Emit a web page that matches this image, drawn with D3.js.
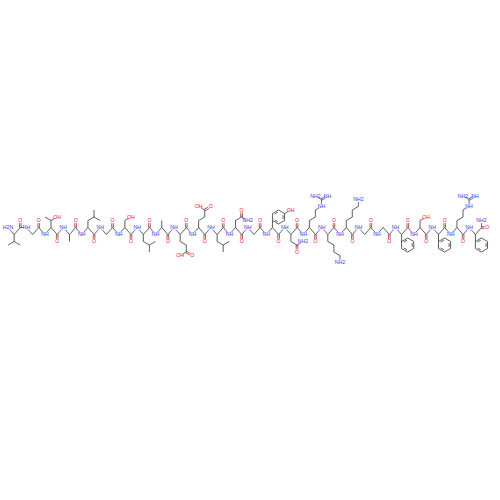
<!DOCTYPE html>
<html><head><meta charset="utf-8">
<script src="https://d3js.org/d3.v7.min.js"></script>
<style>body{margin:0;background:#fff}</style></head>
<body><svg id="c" width="500" height="500"></svg>
<script>
const residues = ["V","G","T","A","L","G","S","L","A","E","E","L","N","G","Y","N","R","K","K","G","G","F","S","F","R","F"];
const sides    = [ 1, 1,-1, 1,-1, 1,-1, 1,-1, 1,-1, 1,-1, 1,-1, 1,-1, 1,-1, 1,-1, 1,-1, 1,-1, 1];
// side-chain templates: [fromAtom, angle(deg), label, bondOrder]; atom 0 = CA
const templates = {
  G: [],
  A: [[0,0,"",1]],
  V: [[0,0,"",1],[1,60,"",1],[1,-60,"",1]],
  L: [[0,0,"",1],[1,60,"",1],[2,0,"",1],[2,120,"",1]],
  T: [[0,0,"",1],[1,60,"OH",1],[1,-60,"",1]],
  S: [[0,0,"",1],[1,60,"OH",1]],
  E: [[0,0,"",1],[1,60,"",1],[2,0,"",1],[3,60,"O",2],[3,-60,"OH",1]],
  N: [[0,0,"",1],[1,60,"",1],[2,0,"O",2],[2,120,"NH2",1]],
  K: [[0,0,"",1],[1,60,"",1],[2,0,"",1],[3,60,"",1],[4,0,"NH2",1]],
  R: [[0,0,"",1],[1,60,"",1],[2,0,"",1],[3,60,"NH",1],[4,0,"",1],[5,60,"NH",2],[5,-60,"NH2",1]],
  F: [[0,0,"",1],["ring",1,60,""]],
  Y: [[0,0,"",1],["ring",1,60,"OH"]]
};
const L = 7, amp = 3.5, baseY = 231;
const x = d3.scaleLinear().domain([0, 3*residues.length]).range([8, 8 + 3*residues.length*6.15]);
const y = d3.scaleLinear().domain([-1, 1]).range([baseY-amp, baseY+amp]);

const atoms = [], bonds = [], ringInner = [];
function add(px, py, label) { atoms.push({x:px, y:py, label:label||""}); return atoms.length-1; }
function bond(a, b, o) { bonds.push({a, b, o:o||1}); }

let prevC = null, lastD = 1;
const nRes = residues.length;
residues.forEach((r, i) => {
  const d = sides[i]; lastD = d;
  const n = add(x(3*i), y(-d), i === 0 ? "H2N" : "NH");
  const ca = add(x(3*i+1), y(d));
  const c = add(x(3*i+2), y(-d));
  const last = i === nRes - 1;
  const o = add(atoms[c].x, atoms[c].y - d*L, last ? "NH2" : "O");
  if (prevC !== null) bond(prevC, n);
  bond(n, ca); bond(ca, c); bond(c, o, last ? 1 : 2);
  prevC = c;
  const dir = a => [Math.sin(a*Math.PI/180)*L, d*Math.cos(a*Math.PI/180)*L];
  const loc = [ca];
  templates[r].forEach(t => {
    if (t[0] === "ring") {
      const p = atoms[loc[t[1]]];
      const a = t[2], v = dir(a);
      const cx = p.x + v[0], cy = p.y + v[1];
      const vs = [];
      for (let k = 0; k < 6; k++) {
        const w = dir(a + 180 + 60*k);
        vs.push(k === 0 ? loc[t[1]] : add(cx + w[0], cy + w[1]));
      }
      for (let k = 0; k < 6; k++) {
        bond(vs[k], vs[(k+1)%6]);
        if (k % 2 === 1) ringInner.push({a:vs[k], b:vs[(k+1)%6], cx, cy});
      }
      if (t[3]) { const q = atoms[vs[3]]; const oh = add(q.x + v[0], q.y + v[1], t[3]); bond(vs[3], oh); }
    } else {
      const p = atoms[loc[t[0]]], v = dir(t[1]);
      const id = add(p.x + v[0], p.y + v[1], t[2]);
      bond(loc[t[0]], id, t[3]);
      loc.push(id);
    }
  });
});
const ct = add(x(3*nRes) - 0.5, atoms[prevC].y, "O");
bond(prevC, ct, 2);

const svg = d3.select("#c");
const col = l => l.startsWith("O") ? "#e8161b" : (l.includes("N") ? "#3a3adf" : "#333");
const g = svg.append("g");
function shrink(p, q) {
  const dx = q.x - p.x, dy = q.y - p.y, len = Math.hypot(dx, dy);
  const s0 = p.label ? 2.6/len : 0, s1 = q.label ? 2.6/len : 0;
  return [p.x + dx*s0, p.y + dy*s0, q.x - dx*s1, q.y - dy*s1];
}
bonds.forEach(b => {
  const p = atoms[b.a], q = atoms[b.b];
  const offs = b.o === 2 ? [-0.8, 0.8] : [0];
  offs.forEach(off => {
    const [x1,y1,x2,y2] = shrink(p, q);
    const len = Math.hypot(x2-x1, y2-y1), nx = -(y2-y1)/len*off, ny = (x2-x1)/len*off;
    const mx = (x1+x2)/2, my = (y1+y2)/2;
    g.append("line").attr("x1",x1+nx).attr("y1",y1+ny).attr("x2",mx+nx).attr("y2",my+ny)
      .attr("stroke", p.label ? col(p.label) : "#333").attr("stroke-width",0.8);
    g.append("line").attr("x1",mx+nx).attr("y1",my+ny).attr("x2",x2+nx).attr("y2",y2+ny)
      .attr("stroke", q.label ? col(q.label) : "#333").attr("stroke-width",0.8);
  });
});
ringInner.forEach(r => {
  const p = atoms[r.a], q = atoms[r.b];
  const f = 0.75, sh = 0.15;
  const P = [r.cx + (p.x-r.cx)*f, r.cy + (p.y-r.cy)*f], Q = [r.cx + (q.x-r.cx)*f, r.cy + (q.y-r.cy)*f];
  g.append("line").attr("x1",P[0]+(Q[0]-P[0])*sh).attr("y1",P[1]+(Q[1]-P[1])*sh)
    .attr("x2",Q[0]-(Q[0]-P[0])*sh).attr("y2",Q[1]-(Q[1]-P[1])*sh).attr("stroke","#333").attr("stroke-width",0.8);
});
atoms.filter(a => a.label).forEach(a => {
  g.append("text").attr("x",a.x).attr("y",a.y+1.8).attr("text-anchor","middle")
    .attr("font-family","Liberation Sans, Arial").attr("font-size",5.2)
    .attr("fill", col(a.label)).text(a.label);
});
</script></body></html>
